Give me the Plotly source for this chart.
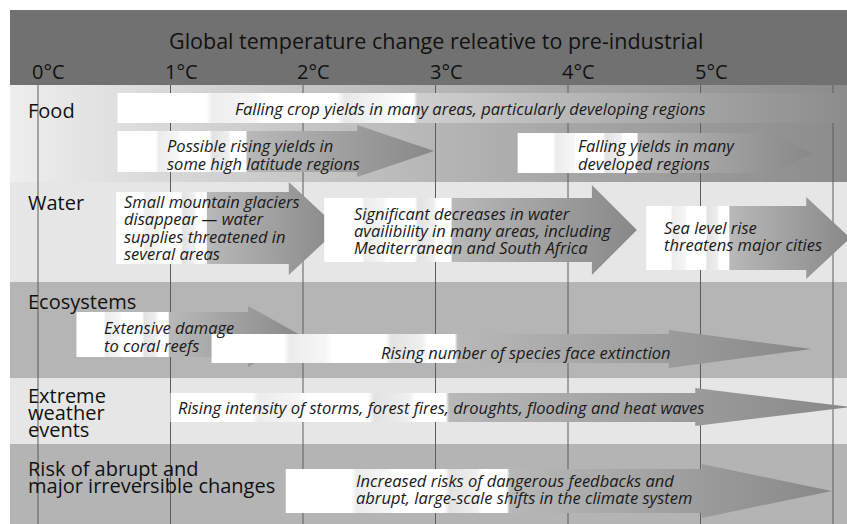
import plotly.graph_objects as go

# ---------------- data ----------------
temps = [0, 1, 2, 3, 4, 5, 6]
tick_labels = ['0°C', '1°C', '2°C', '3°C', '4°C', '5°C']
title_text = 'Global temperature change releative to pre-industrial'

categories = ['Food', 'Water', 'Ecosystems', 'Extreme weather events',
              'Risk of abrupt and major irreversible changes']
category_lines = [['Food'], ['Water'], ['Ecosystems'],
                  ['Extreme', 'weather', 'events'],
                  ['Risk of abrupt and', 'major irreversible changes']]

impact_category = ['Food', 'Food', 'Food', 'Water', 'Water', 'Water',
                   'Ecosystems', 'Ecosystems', 'Extreme weather events',
                   'Risk of abrupt and major irreversible changes']
impact_start = [0.60, 0.60, 3.62, 0.59, 2.16, 4.59, 0.29, 1.31, 1.00, 1.87]
impact_end = [6.12, 2.99, 5.84, 2.27, 4.52, 6.13, 2.00, 5.84, 6.13, 5.99]
impact_lines = [
    ['Falling crop yields in many areas, particularly developing regions'],
    ['Possible rising yields in', 'some high latitude regions'],
    ['Falling yields in many', 'developed regions'],
    ['Small mountain glaciers', 'disappear \u2014 water', 'supplies threatened in', 'several areas'],
    ['Significant decreases in water', 'availibility in many areas, including',
     'Mediterranean and South Africa'],
    ['Sea level rise', 'threatens major cities'],
    ['Extensive damage', 'to coral reefs'],
    ['Rising number of species face extinction'],
    ['Rising intensity of storms, forest fires, droughts, flooding and heat waves'],
    ['Increased risks of dangerous feedbacks and',
     'abrupt, large-scale shifts in the climate system'],
]

# ---------------- layout (pixels) ----------------
W, H = 847, 524
X0_PX, PX_PER_DEG = 38.0, 132.5


def px2x(p):
    return (p - X0_PX) / PX_PER_DEG


X_LEFT, X_RIGHT = px2x(0), px2x(W)

header_box = (10, 85)
band_bounds = [(85, 182), (182, 282), (282, 378), (378, 444), (444, 526)]
band_colors = [None, '#e6e6e6', '#b5b5b5', '#e6e6e6', '#b4b4b4']
food_scale = [[0, '#eeeeee'], [0.3, '#cbcbcb'], [0.65, '#a7a7a7'], [1, '#8b8b8b']]
label_y = [[110], [202], [301], [395, 412, 429], [468, 485]]

# arrow geometry: body top, body bottom, head top, head bottom, head length (px)
arrow_geom = [
    (93, 123, 93, 123, 0),
    (131, 172, 125, 177, 77),
    (133, 173, 127, 180, 52),
    (192, 264, 182, 275, 50),
    (198, 262, 185, 275, 45),
    (206, 270, 197, 279, 44),
    (312, 357, 306, 367, 55),
    (334, 363, 330, 368, 143),
    (393, 422, 388, 426, 155),
    (469, 513, 464, 518, 130),
]
# text anchor: left x (px), y of each line (px)
text_pos = [
    (233, [108]),
    (165, [145, 163]),
    (576, [145, 163]),
    (122, [201, 218, 236, 253]),
    (352, [213, 230, 247]),
    (662, [227, 244]),
    (102, [327, 345]),
    (379, [352]),
    (176, [407]),
    (354, [480, 497]),
]

arrow_scale = [[0, '#ffffff'], [0.12, '#ffffff'], [0.13, '#ececec'], [0.19, '#f6f6f6'],
               [0.2, '#ffffff'], [0.29, '#ffffff'], [0.3, '#e2e2e2'], [0.35, '#efefef'],
               [0.36, '#ffffff'], [0.405, '#ffffff'], [0.41, '#b8b8b8'], [1, '#888888']]
bar_scale = [[0, '#ffffff'], [0.12, '#ffffff'], [0.13, '#eeeeee'], [0.19, '#f6f6f6'],
             [0.2, '#ffffff'], [0.3, '#ffffff'], [0.31, '#e8e8e8'], [0.4, '#ffffff'],
             [0.405, '#ffffff'], [0.41, '#cfcfcf'], [1, '#8c8c8c']]

fig = go.Figure()


def rect(x0, x1, y0, y1):
    return [x0, x1, x1, x0, x0], [y0, y0, y1, y1, y0]


# header
hx, hy = rect(px2x(10), X_RIGHT + 0.05, header_box[0], header_box[1])
fig.add_trace(go.Scatter(x=hx, y=hy, fill='toself', fillcolor='#717171',
                         mode='lines', line=dict(width=0), hoverinfo='skip', showlegend=False))

# bands
for (t, b), col in zip(band_bounds, band_colors):
    bx, by = rect(px2x(10), X_RIGHT + 0.05, t, b)
    if col is None:
        fig.add_trace(go.Scatter(x=bx, y=by, fill='toself', mode='lines', line=dict(width=0),
                                 fillgradient=dict(type='horizontal', colorscale=food_scale),
                                 hoverinfo='skip', showlegend=False))
    else:
        fig.add_trace(go.Scatter(x=bx, y=by, fill='toself', fillcolor=col, mode='lines',
                                 line=dict(width=0), hoverinfo='skip', showlegend=False))

# grid lines
gx, gy = [], []
for t in temps:
    gx += [t, t, None]
    gy += [85, H + 2, None]
fig.add_trace(go.Scatter(x=gx, y=gy, mode='lines', line=dict(color='#5c5c5c', width=1),
                         hoverinfo='skip', showlegend=False))

# arrows
for i, (s, e) in enumerate(zip(impact_start, impact_end)):
    bt, bb, ht, hb, hl = arrow_geom[i]
    if hl == 0:
        xs, ys = rect(s, e, bt, bb)
        sc = bar_scale
    else:
        xb = e - hl / PX_PER_DEG
        tip_y = (ht + hb) / 2
        xs = [s, xb, xb, e, xb, xb, s, s]
        ys = [bt, bt, ht, tip_y, hb, bb, bb, bt]
        sc = arrow_scale
    fig.add_trace(go.Scatter(x=xs, y=ys, fill='toself', mode='lines', line=dict(width=0),
                             fillgradient=dict(type='horizontal', colorscale=sc),
                             hoverinfo='skip', showlegend=False))

annotations = []
annotations.append(dict(x=3.0, y=40, text=title_text, xref='x', yref='y', showarrow=False,
                        xanchor='center', yanchor='middle',
                        font=dict(family='Open Sans', size=21.5, color='#111111')))
for t, lab in zip(temps, tick_labels):
    annotations.append(dict(x=t + 10.5 / PX_PER_DEG, y=71, text=lab, xref='x', yref='y',
                            showarrow=False, xanchor='center', yanchor='middle',
                            font=dict(family='Open Sans', size=20, color='#111111')))
for lines, ys in zip(category_lines, label_y):
    for ln, yy in zip(lines, ys):
        annotations.append(dict(x=px2x(26), y=yy, text=ln, xref='x', yref='y', showarrow=False,
                                xanchor='left', yanchor='middle',
                                font=dict(family='Open Sans', size=20, color='#111111')))
for lines, (tx, tys) in zip(impact_lines, text_pos):
    for ln, yy in zip(lines, tys):
        annotations.append(dict(x=px2x(tx), y=yy, text=ln, xref='x', yref='y', showarrow=False,
                                xanchor='left', yanchor='middle',
                                font=dict(family='Open Sans', size=16.5, color='#1a1a1a',
                                          style='italic')))

fig.update_layout(
    width=W, height=H, margin=dict(l=0, r=0, t=0, b=0),
    paper_bgcolor='white', plot_bgcolor='white',
    xaxis=dict(range=[X_LEFT, X_RIGHT], visible=False, fixedrange=True),
    yaxis=dict(range=[H, 0], visible=False, fixedrange=True),
    annotations=annotations, showlegend=False,
)

fig.write_html('out.html', config={'displayModeBar': False, 'staticPlot': True},
               post_script="document.body.style.margin='0';document.body.style.overflow='hidden';")
